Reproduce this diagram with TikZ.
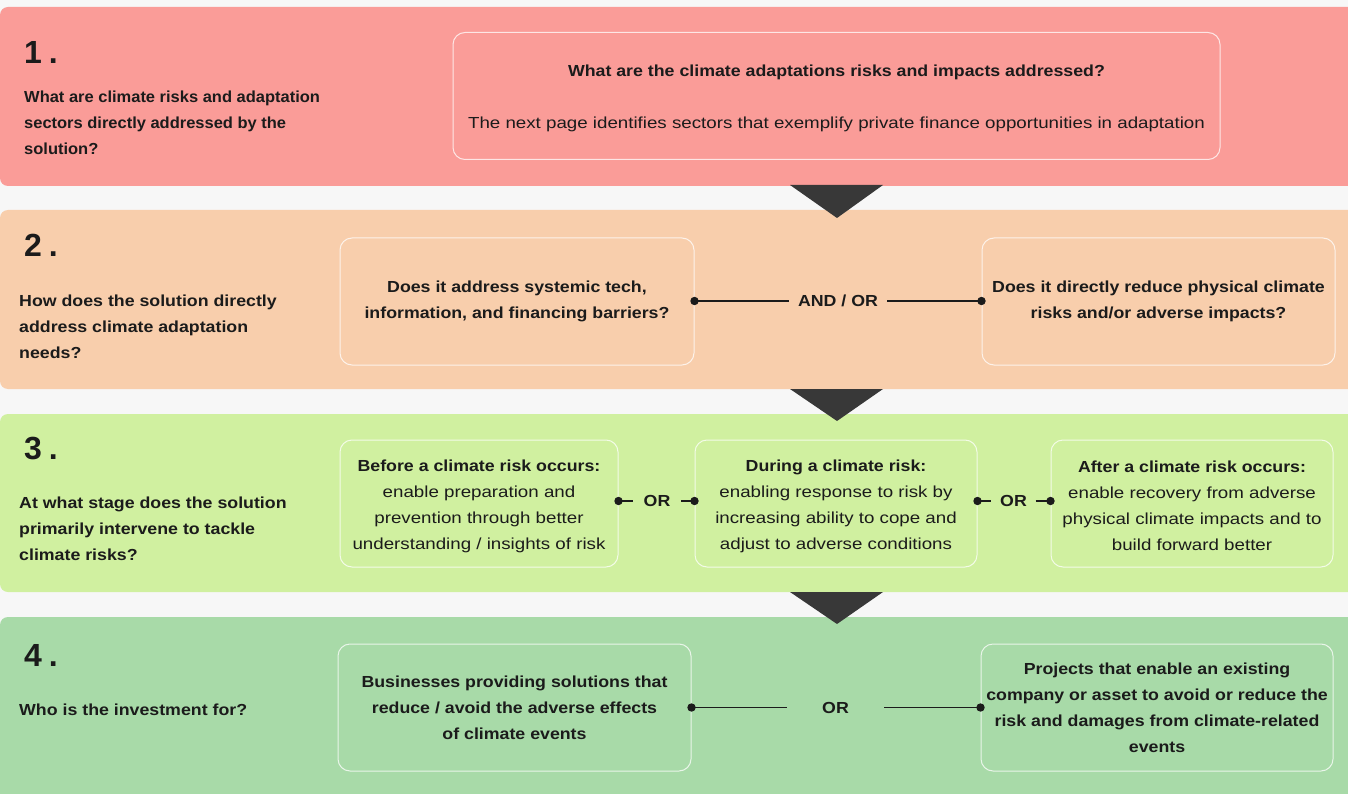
\documentclass[tikz,border=0pt]{standalone}
\usepackage{fontspec}
\setmainfont{Liberation Sans}[FakeStretch=1.17]
\newfontfamily\boldw{Liberation Sans}[FakeStretch=1.11]
\newfontfamily\boldn{Liberation Sans}[FakeStretch=1.03]
\newfontfamily\plainf{Liberation Sans}
\definecolor{bgc}{HTML}{F7F7F7}
\definecolor{bandA}{HTML}{FA9C98}
\definecolor{bandB}{HTML}{F8CEAC}
\definecolor{bandC}{HTML}{D0F0A0}
\definecolor{bandD}{HTML}{A8DAA8}
\definecolor{tri}{HTML}{383838}
\definecolor{ink}{HTML}{1B1B1B}
\tikzset{
  band/.style={rounded corners=8pt},
  qbox/.style={draw=white, draw opacity=0.75, line width=1pt, rounded corners=12pt, minimum height=127pt, align=center, text=ink, inner sep=0pt},
  num/.style={anchor=west, text=ink, font=\plainf\fontsize{32}{32}\selectfont\bfseries, inner sep=0pt},
  ques/.style={anchor=west, align=left, text=ink, font=\boldw\fontsize{16}{26}\selectfont\bfseries, inner sep=0pt},
  btxt/.style={font=\fontsize{16}{26}\selectfont},
  bbold/.style={font=\boldw\fontsize{16}{26}\selectfont\bfseries},
  ctext/.style={align=center, text=ink, inner sep=0pt},
  conn/.style={line width=1.3pt, draw=ink},
  lbl/.style={text=ink, font=\boldw\fontsize{16}{16}\selectfont\bfseries, inner sep=0pt},
  dot/.style={fill=ink},
  arrowtri/.style={fill=tri}
}
\newcommand{\bw}[1]{{\boldw\bfseries #1}}
\begin{document}
\begin{tikzpicture}[x=1pt,y=-1pt]
\useasboundingbox (0,0) rectangle (1348,794);
\fill[bgc] (0,0) rectangle (1348,794);
\begin{scope}
\clip (0,0) rectangle (1348,794);
\fill[bandA, band] (0,7) rectangle (1370,186);
\fill[bandB, band] (0,210) rectangle (1370,389);
\fill[bandC, band] (0,414) rectangle (1370,592);
\fill[bandD, band] (0,617) rectangle (1370,810);
\end{scope}

% triangles
\fill[arrowtri] (790,185) -- (883,185) -- (837,218) -- cycle;
\fill[arrowtri] (790,389) -- (883,389) -- (837,421) -- cycle;
\fill[arrowtri] (790,592) -- (883,592) -- (837,624) -- cycle;

% band 1
\node[num] (n1) at (24,52) {1\hspace{7pt}.};
\node[ques, font=\boldn\fontsize{16}{26}\selectfont\bfseries] (q1) at (24,122.5) {What are climate risks and adaptation\\sectors directly addressed by the\\solution?};
\node[qbox, minimum width=767pt] (b1) at (836.5,96) {};
\node[text=ink, font=\boldw\fontsize{16}{16}\selectfont\bfseries] (b1t) at (836.5,72.5) {What are the climate adaptations risks and impacts addressed?};
\node[text=ink, btxt] (b1s) at (836.5,124.5) {The next page identifies sectors that exemplify private finance opportunities in adaptation};

% band 2
\node[num] (n2) at (24,245) {2\hspace{7pt}.};
\node[ques] (q2) at (19,327) {How does the solution directly\\address climate adaptation\\needs?};
\node[qbox, minimum width=354pt, bbold] (b2a) at (517,301.5) {Does it address systemic tech,\\information, and financing barriers?};
\node[qbox, minimum width=353pt, bbold] (b2b) at (1158.5,301.5) {Does it directly reduce physical climate\\risks and/or adverse impacts?};
\node[lbl, minimum width=98pt] (c2) at (838,301) {AND / OR};
\draw[conn] (b2a.east |- c2.west) -- (c2.west);
\draw[conn] (c2.east) -- (b2b.west |- c2.east);
\fill[dot] (b2a.east |- c2.west) circle (4.2pt);
\fill[dot] (b2b.west |- c2.east) circle (4.2pt);

% band 3
\node[num] (n3) at (24,449) {3\hspace{7pt}.};
\node[ques] (q3) at (19,529) {At what stage does the solution\\primarily intervene to tackle\\climate risks?};
\node[qbox, minimum width=278pt] (b3a) at (479,503.5) {};
\node[qbox, minimum width=282pt] (b3b) at (836,503.5) {};
\node[qbox, minimum width=282pt] (b3c) at (1192,503.5) {};
\node[ctext, btxt] (t3a) at (479,506) {\bw{Before a climate risk occurs:}\\enable preparation and\\prevention through better\\understanding / insights of risk};
\node[ctext, btxt] (t3b) at (836,506) {\bw{During a climate risk:}\\enabling response to risk by\\increasing ability to cope and\\adjust to adverse conditions};
\node[ctext, btxt] (t3c) at (1192,506) {\bw{After a climate risk occurs:}\\enable recovery from adverse\\physical climate impacts and to\\build forward better};
\node[lbl, minimum width=48pt] (c3a) at (657,501) {OR};
\node[lbl, minimum width=44pt] (c3b) at (1013.5,501) {OR};
\draw[conn] (b3a.east |- c3a.west) -- (c3a.west);
\draw[conn] (c3a.east) -- (b3b.west |- c3a.east);
\draw[conn] (b3b.east |- c3b.west) -- (c3b.west);
\draw[conn] (c3b.east) -- (b3c.west |- c3b.east);
\fill[dot] (b3a.east |- c3a.west) circle (4.2pt);
\fill[dot] (b3b.west |- c3a.east) circle (4.2pt);
\fill[dot] (b3b.east |- c3b.west) circle (4.2pt);
\fill[dot] (b3c.west |- c3b.east) circle (4.2pt);

% band 4
\node[num] (n4) at (24,655) {4\hspace{7pt}.};
\node[ques] (q4) at (19,710) {Who is the investment for?};
\node[qbox, minimum width=353pt, bbold] (b4a) at (514.5,707.5) {Businesses providing solutions that\\reduce / avoid the adverse effects\\of climate events};
\node[qbox, minimum width=352pt, bbold] (b4b) at (1157,707.5) {Projects that enable an existing\\company or asset to avoid or reduce the\\risk and damages from climate-related\\events};
\node[lbl, minimum width=97pt] (c4) at (835.5,707.5) {OR};
\draw[conn] (b4a.east |- c4.west) -- (c4.west);
\draw[conn] (c4.east) -- (b4b.west |- c4.east);
\fill[dot] (b4a.east |- c4.west) circle (4.2pt);
\fill[dot] (b4b.west |- c4.east) circle (4.2pt);
\end{tikzpicture}
\end{document}
